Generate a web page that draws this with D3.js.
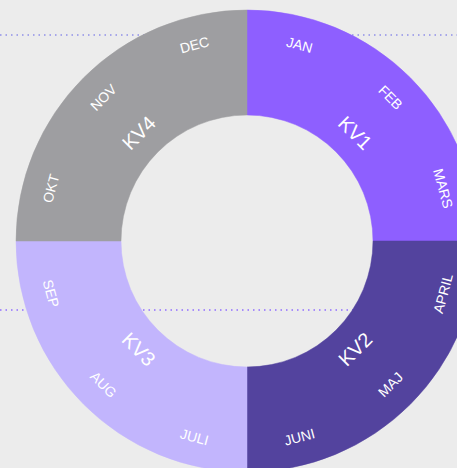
<!DOCTYPE html>
<html><head><meta charset="utf-8">
<script src="https://cdn.jsdelivr.net/npm/d3@7"></script>
<style>html,body{margin:0;padding:0;background:#ececec;overflow:hidden}</style>
</head><body><svg id="c" width="457" height="468"></svg>
<script>
const quarters = ["KV1","KV2","KV3","KV4"];
const quarterValues = [3,3,3,3];
const quarterColors = ["#8e5fff","#53439e","#c2b5fd","#9e9ea1"];
const months = ["JAN","FEB","MARS","APRIL","MAJ","JUNI","JULI","AUG","SEP","OKT","NOV","DEC"];
const monthValues = [1,1,1,1,1,1,1,1,1,1,1,1];
const guideLines = [{y:35,color:"#8e8ee8"},{y:310,color:"#8f6cff"}];

const svg = d3.select("#c");
const W=457,H=468, cx=247, cy=241, R=231, r0=126;

svg.append("rect").attr("width",W).attr("height",H).attr("fill","#ececec");
svg.selectAll("line.g").data(guideLines).join("line")
  .attr("x1",0).attr("x2",W).attr("y1",d=>d.y).attr("y2",d=>d.y)
  .attr("stroke",d=>d.color).attr("stroke-width",1.5).attr("stroke-dasharray","1.5 4");

const g = svg.append("g").attr("transform",`translate(${cx},${cy})`);
const pie = d3.pie().sort(null).value(d=>d);
const qArcs = pie(quarterValues);
const mArcs = pie(monthValues);
const arc = d3.arc().innerRadius(r0).outerRadius(R);

g.selectAll("path.q").data(qArcs).join("path")
  .attr("d",arc).attr("fill",(d,i)=>quarterColors[i])
  .attr("stroke",(d,i)=>quarterColors[i]).attr("stroke-width",0.5);

function place(d, rad){
  const a = (d.startAngle+d.endAngle)/2;
  const deg = a*180/Math.PI;
  const x = rad*Math.sin(a), y = -rad*Math.cos(a);
  const rot = (deg>90 && deg<270) ? deg-180 : (deg>=270 ? deg-360 : deg);
  return `translate(${x},${y}) rotate(${rot})`;
}
g.selectAll("text.m").data(mArcs).join("text")
  .attr("transform",d=>place(d,203))
  .attr("text-anchor","middle").attr("dy","0.35em")
  .attr("fill","#ffffff").attr("font-family","Liberation Sans, Arial, sans-serif")
  .attr("font-size",14).text((d,i)=>months[i]);
g.selectAll("text.q").data(qArcs).join("text")
  .attr("transform",d=>place(d,153))
  .attr("text-anchor","middle").attr("dy","0.35em")
  .attr("fill","#ffffff").attr("font-family","Liberation Sans, Arial, sans-serif")
  .attr("font-size",20).text((d,i)=>quarters[i]);
</script></body></html>
